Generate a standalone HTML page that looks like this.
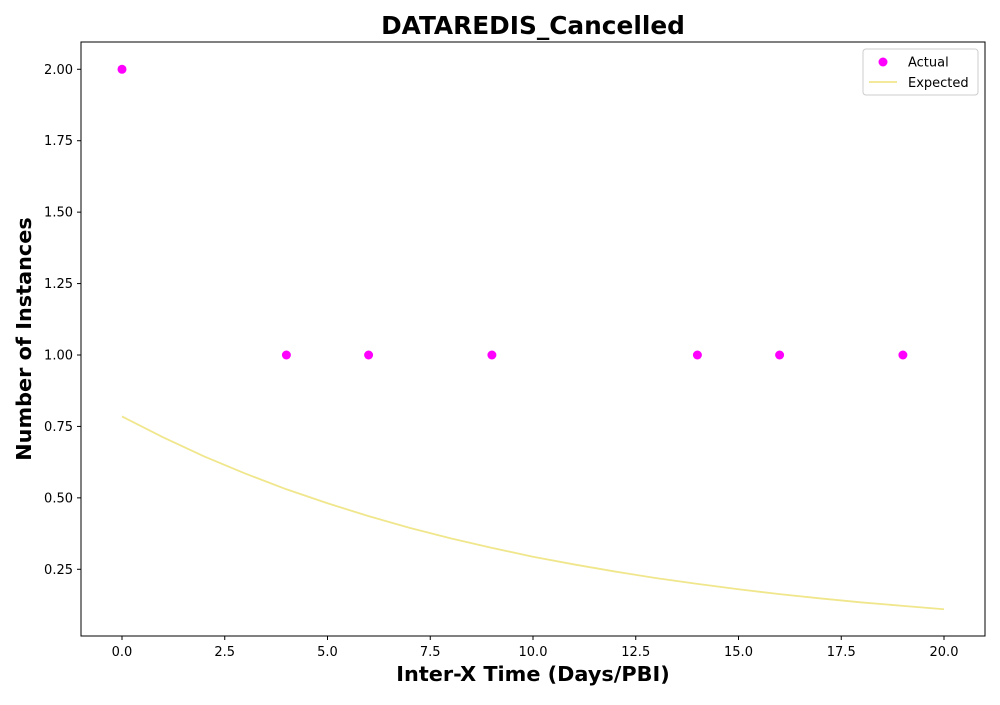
<!DOCTYPE html>
<html><head><meta charset="utf-8"><style>
body{margin:0;background:#fff;font-family:"Liberation Sans","DejaVu Sans",sans-serif}
</style></head><body>
<svg id="chart" width="1000" height="700" xmlns="http://www.w3.org/2000/svg" font-family="DejaVu Sans, Liberation Sans, sans-serif">
<rect width="1000" height="700" fill="#fff"/>
<text x="533" y="34" text-anchor="middle" font-size="24.8" font-weight="bold">DATAREDIS_Cancelled</text>
<text x="533" y="681" text-anchor="middle" font-size="20.8" font-weight="bold">Inter-X Time (Days/PBI)</text>
<text transform="translate(31,339) rotate(-90)" text-anchor="middle" font-size="20.8" font-weight="bold">Number of Instances</text>
<g id="xticks"></g>
<g id="yticks"></g>
<g id="marks"></g>
<rect x="81" y="42" width="904" height="594" fill="none" stroke="#000" stroke-width="1"/>
<g>
<rect x="863" y="49" width="115" height="46" fill="#fff" stroke="#ccc" rx="3"/>
<circle cx="883" cy="62" r="4.5" fill="#ff00ff"/>
<text x="908" y="66.5" font-size="13">Actual</text>
<line x1="869" y1="82" x2="897" y2="82" stroke="#f0e68c" stroke-width="1.8"/>
<text x="908" y="87" font-size="13">Expected</text>
</g>
</svg>
<script>
const actualX=[0,4,6,9,14,16,19];
const actualY=[2,1,1,1,1,1,1];
const expectedX=[0,1,2,3,4,5,6,7,8,9,10,11,12,13,14,15,16,17,18,19,20];
const expectedY=[0.785,0.712,0.645,0.585,0.530,0.481,0.436,0.395,0.358,0.325,0.294,0.267,0.242,0.219,0.199,0.180,0.163,0.148,0.134,0.122,0.110];
const xTicks=[0,2.5,5,7.5,10,12.5,15,17.5,20];
const yTicks=[0.25,0.5,0.75,1.0,1.25,1.5,1.75,2.0];
const NS="http://www.w3.org/2000/svg";
const sx=v=>122+v*41.1;
const sy=v=>355-(v-1)*285.714;
function mk(t,a,p){const e=document.createElementNS(NS,t);for(const k in a)e.setAttribute(k,a[k]);p.appendChild(e);return e;}
const xg=document.getElementById('xticks'),yg=document.getElementById('yticks'),mg=document.getElementById('marks');
xTicks.forEach(v=>{
 const l=mk('line',{x1:sx(v),x2:sx(v),y1:636,y2:640,stroke:'#000'},xg);
 
 
 const t=mk('text',{x:sx(v),y:656,'text-anchor':'middle','font-size':13},xg);
 
 
 t.textContent=v.toFixed(1);
});
yTicks.forEach(v=>{
 const l=mk('line',{x1:77,x2:81,y1:sy(v),y2:sy(v),stroke:'#000'},yg);
 
 
 const t=mk('text',{x:73,y:sy(v)+4.5,'text-anchor':'end','font-size':13},yg);
 
 
 t.textContent=v.toFixed(2);
});
const pts=expectedX.map((x,i)=>sx(x)+','+sy(expectedY[i])).join(' ');
const pl=mk('polyline',{points:pts,fill:'none',stroke:'#f0e68c','stroke-width':1.8},mg);


actualX.forEach((x,i)=>{
 const c=mk('circle',{cx:sx(x),cy:sy(actualY[i]),r:4.5,fill:'#ff00ff'},mg);
 
 
});
</script>
</body></html>
